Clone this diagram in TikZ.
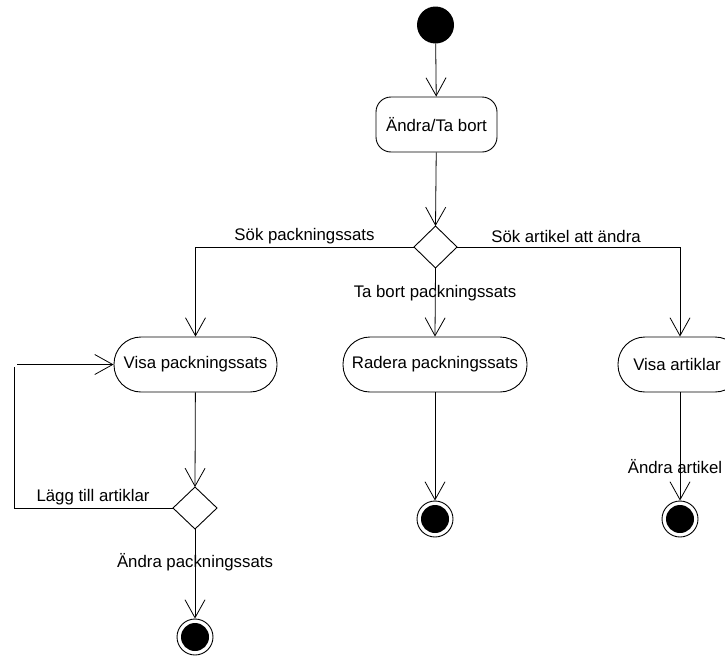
\documentclass[tikz,border=0pt]{standalone}
\usepackage{fontspec}
\setmainfont{Liberation Sans}
\usetikzlibrary{arrows.meta}
\begin{document}
\begin{tikzpicture}[x=1pt,y=-1pt,
  every node/.style={font=\fontsize{16.8}{19}\selectfont, inner sep=0pt},
  flow/.style={draw=black, line width=0.8pt, -{Straight Barb[length=18pt,width=20pt,line width=0.8pt]}},
  link/.style={draw=black, line width=0.8pt},
  action/.style={draw=black, line width=0.9pt, rounded corners=27pt, minimum height=55pt},
  firstaction/.style={draw=black, line width=0.9pt, rounded corners=15pt, minimum height=55pt, minimum width=121pt},
  choice/.style={draw=black, line width=0.9pt, fill=white, minimum width=43pt, minimum height=42pt, shape=diamond},
  startdot/.style={circle, fill=black, minimum size=37pt},
  enddot/.style={circle, draw=black, line width=0.9pt, fill=white, minimum size=36pt, path picture={\fill[black] (path picture bounding box.center) circle (14pt);}},
  lbl/.style={anchor=center}
]
\clip (0,0) rectangle (725,656);
\useasboundingbox (0,0) rectangle (725,656);

% nodes
\node[startdot] (start) at (435.5,25) {};
\node[firstaction] (edit) at (436.5,124.5) {Ändra/Ta bort};
\node[draw=none, minimum size=0pt] (d1) at (435.5,247) {};
\coordinate (d1n) at (435.5,226);
\coordinate (d1s) at (435.5,268);
\coordinate (d1w) at (414,247);
\coordinate (d1e) at (457,247);
\draw[black, line width=0.9pt, fill=white] (d1n) -- (d1e) -- (d1s) -- (d1w) -- cycle;

\node[action, minimum width=163pt] (showset) at (195.5,364.5) {Visa packningssats};
\node[action, minimum width=184pt] (delset) at (435,364.5) {Radera packningssats};
\node[action, minimum width=124pt] (showart) at (680,364.5) {};
\node at (677,364.5) {Visa artiklar};

\coordinate (d2n) at (195,487);
\coordinate (d2s) at (195,529);
\coordinate (d2w) at (173,508);
\coordinate (d2e) at (217,508);
\draw[black, line width=0.9pt, fill=white] (d2n) -- (d2e) -- (d2s) -- (d2w) -- cycle;

\node[enddot] (end1) at (195,637) {};
\node[enddot] (end2) at (435,519) {};
\node[enddot] (end3) at (680,519) {};

% connectors
\draw[flow] (start) -- (edit);
\draw[flow] (edit) -- (d1n);
\draw[flow] (d1w) -| (showset.north);
\draw[flow] (d1s) -- (delset.north);
\draw[flow] (d1e) -| (showart.north);
\draw[flow] (showset) -- (d2n);
\coordinate (loopcorner) at (14,508);
\coordinate (looptop) at (14,367);
\coordinate (loopstart) at (17,364.5);
\draw[link] (d2w) -- (loopcorner) -- (looptop);
\draw[flow] (loopstart) -- (showset.west);
\draw[flow] (d2s) -- (end1);
\draw[flow] (delset) -- (end2);
\draw[flow] (showart) -- (end3);

% guard labels
\node[lbl] at (304.5,236) {Sök packningssats};
\node[lbl] at (566,236) {Sök artikel att ändra};
\node[lbl] at (435,293) {Ta bort packningssats};
\node[lbl] at (93,497) {Lägg till artiklar};
\node[lbl] at (195,562) {Ändra packningssats};
\node[lbl] at (675,467) {Ändra artikel};
\end{tikzpicture}
\end{document}
